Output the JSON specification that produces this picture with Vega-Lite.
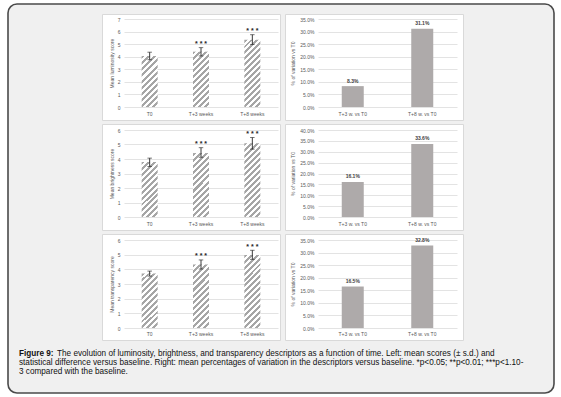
{
"$schema": "https://vega.github.io/schema/vega-lite/v6.json",
"background": "#ffffff",
"padding": {"left": 7, "top": 3, "right": 0, "bottom": 0},
"config": {
 "font": "Liberation Sans",
 "view": {"stroke": null},
 "axis": {"labelFont": "Liberation Sans", "titleFont": "Liberation Sans", "labelFontSize": 5, "titleFontSize": 5, "labelColor": "#595959", "titleColor": "#595959", "titleFontWeight": "normal", "domain": false, "ticks": false, "gridColor": "#d9d9d9", "gridWidth": 0.75},
 "axisX": {"grid": false, "offset": -13, "labelPadding": 4, "labelAngle": 0},
 "axisY": {"grid": true, "labelPadding": 2, "titlePadding": 3}
},
"bounds": "flush",
"spacing": 0,
"vconcat": [
 {"width": 546, "height": 10, "data": {"values": [{}]},
  "mark": {"type": "rect", "fill": "#f0f0f0", "stroke": "#4a4a4a", "strokeWidth": 1.6, "cornerRadius": 9},
  "encoding": {
   "x": {"datum": 0, "type": "quantitative", "scale": {"domain": [0, 1], "range": [0, 546]}, "axis": null},
   "x2": {"datum": 1},
   "y": {"datum": 0, "type": "quantitative", "scale": {"domain": [0, 1], "range": [0, 389]}, "axis": null},
   "y2": {"datum": 1}}},
 {"spacing": 2, "vconcat": [
  {"bounds": "flush", "spacing": 5, "hconcat": [
   {"width": 89, "height": 1, "data": {"values": []}, "mark": {"type": "point"}, "encoding": {}},
   {"width": 178, "height": 106, "view": {"fill": "#ffffff", "stroke": "#d9d9d9"},
    "data": {"values": [
     {"cat": "T0", "mean": 4.06, "lo": 3.76, "hi": 4.36, "sig": ""},
     {"cat": "T+3 weeks", "mean": 4.40, "lo": 4.06, "hi": 4.72, "sig": "* * *"},
     {"cat": "T+8 weeks", "mean": 5.35, "lo": 4.97, "hi": 5.75, "sig": "* * *"}]},
    "encoding": {
     "x": {"field": "cat", "type": "nominal", "title": null, "scale": {"domain": ["T0", "T+3 weeks", "T+8 weeks"], "range": [22, 176], "paddingInner": 0, "paddingOuter": 0}},
     "y": {"field": "mean", "type": "quantitative", "title": "Mean luminosity score", "scale": {"domain": [0, 7], "range": [93, 5], "nice": false}, "axis": {"offset": -20, "values": [0, 1, 2, 3, 4, 5, 6, 7]}}},
    "layer": [
     {"transform": [{"filter": "datum.cat === 'T0'"}], "mark": {"type": "bar", "size": 16, "fill": {"gradient": "linear", "x1": 0, "y1": 0, "x2": 0.375, "y2": 1.196, "stops": [
{"offset":0,"color":"#a6a6a6"},{"offset":0.0455,"color":"#a6a6a6"},{"offset":0.0455,"color":"#fff"},{"offset":0.0909,"color":"#fff"},
{"offset":0.0909,"color":"#a6a6a6"},{"offset":0.1364,"color":"#a6a6a6"},{"offset":0.1364,"color":"#fff"},{"offset":0.1818,"color":"#fff"},
{"offset":0.1818,"color":"#a6a6a6"},{"offset":0.2273,"color":"#a6a6a6"},{"offset":0.2273,"color":"#fff"},{"offset":0.2727,"color":"#fff"},
{"offset":0.2727,"color":"#a6a6a6"},{"offset":0.3182,"color":"#a6a6a6"},{"offset":0.3182,"color":"#fff"},{"offset":0.3636,"color":"#fff"},
{"offset":0.3636,"color":"#a6a6a6"},{"offset":0.4091,"color":"#a6a6a6"},{"offset":0.4091,"color":"#fff"},{"offset":0.4545,"color":"#fff"},
{"offset":0.4545,"color":"#a6a6a6"},{"offset":0.5,"color":"#a6a6a6"},{"offset":0.5,"color":"#fff"},{"offset":0.5455,"color":"#fff"},
{"offset":0.5455,"color":"#a6a6a6"},{"offset":0.5909,"color":"#a6a6a6"},{"offset":0.5909,"color":"#fff"},{"offset":0.6364,"color":"#fff"},
{"offset":0.6364,"color":"#a6a6a6"},{"offset":0.6818,"color":"#a6a6a6"},{"offset":0.6818,"color":"#fff"},{"offset":0.7273,"color":"#fff"},
{"offset":0.7273,"color":"#a6a6a6"},{"offset":0.7727,"color":"#a6a6a6"},{"offset":0.7727,"color":"#fff"},{"offset":0.8182,"color":"#fff"},
{"offset":0.8182,"color":"#a6a6a6"},{"offset":0.8636,"color":"#a6a6a6"},{"offset":0.8636,"color":"#fff"},{"offset":0.9091,"color":"#fff"},
{"offset":0.9091,"color":"#a6a6a6"},{"offset":0.9545,"color":"#a6a6a6"},{"offset":0.9545,"color":"#fff"},{"offset":1,"color":"#fff"}]}}},
     {"transform": [{"filter": "datum.cat === 'T+3 weeks'"}], "mark": {"type": "bar", "size": 16, "fill": {"gradient": "linear", "x1": 0, "y1": 0, "x2": 0.345, "y2": 1.19, "stops": [
{"offset":0,"color":"#a6a6a6"},{"offset":0.0417,"color":"#a6a6a6"},{"offset":0.0417,"color":"#fff"},{"offset":0.0833,"color":"#fff"},
{"offset":0.0833,"color":"#a6a6a6"},{"offset":0.125,"color":"#a6a6a6"},{"offset":0.125,"color":"#fff"},{"offset":0.1667,"color":"#fff"},
{"offset":0.1667,"color":"#a6a6a6"},{"offset":0.2083,"color":"#a6a6a6"},{"offset":0.2083,"color":"#fff"},{"offset":0.25,"color":"#fff"},
{"offset":0.25,"color":"#a6a6a6"},{"offset":0.2917,"color":"#a6a6a6"},{"offset":0.2917,"color":"#fff"},{"offset":0.3333,"color":"#fff"},
{"offset":0.3333,"color":"#a6a6a6"},{"offset":0.375,"color":"#a6a6a6"},{"offset":0.375,"color":"#fff"},{"offset":0.4167,"color":"#fff"},
{"offset":0.4167,"color":"#a6a6a6"},{"offset":0.4583,"color":"#a6a6a6"},{"offset":0.4583,"color":"#fff"},{"offset":0.5,"color":"#fff"},
{"offset":0.5,"color":"#a6a6a6"},{"offset":0.5417,"color":"#a6a6a6"},{"offset":0.5417,"color":"#fff"},{"offset":0.5833,"color":"#fff"},
{"offset":0.5833,"color":"#a6a6a6"},{"offset":0.625,"color":"#a6a6a6"},{"offset":0.625,"color":"#fff"},{"offset":0.6667,"color":"#fff"},
{"offset":0.6667,"color":"#a6a6a6"},{"offset":0.7083,"color":"#a6a6a6"},{"offset":0.7083,"color":"#fff"},{"offset":0.75,"color":"#fff"},
{"offset":0.75,"color":"#a6a6a6"},{"offset":0.7917,"color":"#a6a6a6"},{"offset":0.7917,"color":"#fff"},{"offset":0.8333,"color":"#fff"},
{"offset":0.8333,"color":"#a6a6a6"},{"offset":0.875,"color":"#a6a6a6"},{"offset":0.875,"color":"#fff"},{"offset":0.9167,"color":"#fff"},
{"offset":0.9167,"color":"#a6a6a6"},{"offset":0.9583,"color":"#a6a6a6"},{"offset":0.9583,"color":"#fff"},{"offset":1,"color":"#fff"}]}}},
     {"transform": [{"filter": "datum.cat === 'T+8 weeks'"}], "mark": {"type": "bar", "size": 16, "fill": {"gradient": "linear", "x1": 0, "y1": 0, "x2": 0.279, "y2": 1.172, "stops": [
{"offset":0,"color":"#a6a6a6"},{"offset":0.0357,"color":"#a6a6a6"},{"offset":0.0357,"color":"#fff"},{"offset":0.0714,"color":"#fff"},
{"offset":0.0714,"color":"#a6a6a6"},{"offset":0.1071,"color":"#a6a6a6"},{"offset":0.1071,"color":"#fff"},{"offset":0.1429,"color":"#fff"},
{"offset":0.1429,"color":"#a6a6a6"},{"offset":0.1786,"color":"#a6a6a6"},{"offset":0.1786,"color":"#fff"},{"offset":0.2143,"color":"#fff"},
{"offset":0.2143,"color":"#a6a6a6"},{"offset":0.25,"color":"#a6a6a6"},{"offset":0.25,"color":"#fff"},{"offset":0.2857,"color":"#fff"},
{"offset":0.2857,"color":"#a6a6a6"},{"offset":0.3214,"color":"#a6a6a6"},{"offset":0.3214,"color":"#fff"},{"offset":0.3571,"color":"#fff"},
{"offset":0.3571,"color":"#a6a6a6"},{"offset":0.3929,"color":"#a6a6a6"},{"offset":0.3929,"color":"#fff"},{"offset":0.4286,"color":"#fff"},
{"offset":0.4286,"color":"#a6a6a6"},{"offset":0.4643,"color":"#a6a6a6"},{"offset":0.4643,"color":"#fff"},{"offset":0.5,"color":"#fff"},
{"offset":0.5,"color":"#a6a6a6"},{"offset":0.5357,"color":"#a6a6a6"},{"offset":0.5357,"color":"#fff"},{"offset":0.5714,"color":"#fff"},
{"offset":0.5714,"color":"#a6a6a6"},{"offset":0.6071,"color":"#a6a6a6"},{"offset":0.6071,"color":"#fff"},{"offset":0.6429,"color":"#fff"},
{"offset":0.6429,"color":"#a6a6a6"},{"offset":0.6786,"color":"#a6a6a6"},{"offset":0.6786,"color":"#fff"},{"offset":0.7143,"color":"#fff"},
{"offset":0.7143,"color":"#a6a6a6"},{"offset":0.75,"color":"#a6a6a6"},{"offset":0.75,"color":"#fff"},{"offset":0.7857,"color":"#fff"},
{"offset":0.7857,"color":"#a6a6a6"},{"offset":0.8214,"color":"#a6a6a6"},{"offset":0.8214,"color":"#fff"},{"offset":0.8571,"color":"#fff"},
{"offset":0.8571,"color":"#a6a6a6"},{"offset":0.8929,"color":"#a6a6a6"},{"offset":0.8929,"color":"#fff"},{"offset":0.9286,"color":"#fff"},
{"offset":0.9286,"color":"#a6a6a6"},{"offset":0.9643,"color":"#a6a6a6"},{"offset":0.9643,"color":"#fff"},{"offset":1,"color":"#fff"}]}}},
     {"mark": {"type": "rule", "color": "#262626", "strokeWidth": 0.9}, "encoding": {"y": {"field": "lo", "type": "quantitative", "title": "Mean luminosity score", "axis": {"offset": -20, "values": [0, 1, 2, 3, 4, 5, 6, 7]}}, "y2": {"field": "hi"}}},
     {"mark": {"type": "tick", "color": "#262626", "thickness": 0.9, "size": 4.5}, "encoding": {"y": {"field": "lo", "type": "quantitative", "title": "Mean luminosity score", "axis": {"offset": -20, "values": [0, 1, 2, 3, 4, 5, 6, 7]}}}},
     {"mark": {"type": "tick", "color": "#262626", "thickness": 0.9, "size": 4.5}, "encoding": {"y": {"field": "hi", "type": "quantitative", "title": "Mean luminosity score", "axis": {"offset": -20, "values": [0, 1, 2, 3, 4, 5, 6, 7]}}}},
     {"mark": {"type": "text", "fontSize": 7, "fontWeight": "bold", "color": "#262626", "baseline": "middle", "dy": -3.5}, "encoding": {"y": {"field": "hi", "type": "quantitative", "title": "Mean luminosity score", "axis": {"offset": -20, "values": [0, 1, 2, 3, 4, 5, 6, 7]}}, "text": {"field": "sig"}}}
    ]},
   {"width": 178, "height": 106, "view": {"fill": "#ffffff", "stroke": "#d9d9d9"},
    "data": {"values": [{"cat": "T+3 w. vs T0", "pct": 0.083}, {"cat": "T+8 w. vs T0", "pct": 0.311}]},
    "encoding": {
     "x": {"field": "cat", "type": "nominal", "title": null, "scale": {"domain": ["T+3 w. vs T0", "T+8 w. vs T0"], "range": [33, 172], "paddingInner": 0, "paddingOuter": 0}},
     "y": {"field": "pct", "type": "quantitative", "title": "% of variation vs T0", "scale": {"domain": [0, 0.35], "range": [93, 5], "nice": false}, "axis": {"offset": -31, "format": ".1%", "values": [0, 0.05, 0.1, 0.15, 0.2, 0.25, 0.3, 0.35], "titlePadding": 4}}},
    "layer": [
     {"mark": {"type": "bar", "size": 22, "color": "#aeaaaa"}},
     {"mark": {"type": "text", "fontSize": 5, "fontWeight": "bold", "color": "#404040", "baseline": "middle", "dy": -5.5}, "encoding": {"text": {"field": "pct", "type": "quantitative", "format": ".1%"}}}
    ]}
  ]},
  {"bounds": "flush", "spacing": 5, "hconcat": [
   {"width": 89, "height": 1, "data": {"values": []}, "mark": {"type": "point"}, "encoding": {}},
   {"width": 178, "height": 106, "view": {"fill": "#ffffff", "stroke": "#d9d9d9"},
    "data": {"values": [
     {"cat": "T0", "mean": 3.80, "lo": 3.48, "hi": 4.06, "sig": ""},
     {"cat": "T+3 weeks", "mean": 4.41, "lo": 4.12, "hi": 4.78, "sig": "* * *"},
     {"cat": "T+8 weeks", "mean": 5.08, "lo": 4.68, "hi": 5.48, "sig": "* * *"}]},
    "encoding": {
     "x": {"field": "cat", "type": "nominal", "title": null, "scale": {"domain": ["T0", "T+3 weeks", "T+8 weeks"], "range": [22, 176], "paddingInner": 0, "paddingOuter": 0}},
     "y": {"field": "mean", "type": "quantitative", "title": "Mean brightness score", "scale": {"domain": [0, 6], "range": [93, 6], "nice": false}, "axis": {"offset": -20, "values": [0, 1, 2, 3, 4, 5, 6]}}},
    "layer": [
     {"transform": [{"filter": "datum.cat === 'T0'"}], "mark": {"type": "bar", "size": 16, "fill": {"gradient": "linear", "x1": 0, "y1": 0, "x2": 0.345, "y2": 1.19, "stops": [
{"offset":0,"color":"#a6a6a6"},{"offset":0.0417,"color":"#a6a6a6"},{"offset":0.0417,"color":"#fff"},{"offset":0.0833,"color":"#fff"},
{"offset":0.0833,"color":"#a6a6a6"},{"offset":0.125,"color":"#a6a6a6"},{"offset":0.125,"color":"#fff"},{"offset":0.1667,"color":"#fff"},
{"offset":0.1667,"color":"#a6a6a6"},{"offset":0.2083,"color":"#a6a6a6"},{"offset":0.2083,"color":"#fff"},{"offset":0.25,"color":"#fff"},
{"offset":0.25,"color":"#a6a6a6"},{"offset":0.2917,"color":"#a6a6a6"},{"offset":0.2917,"color":"#fff"},{"offset":0.3333,"color":"#fff"},
{"offset":0.3333,"color":"#a6a6a6"},{"offset":0.375,"color":"#a6a6a6"},{"offset":0.375,"color":"#fff"},{"offset":0.4167,"color":"#fff"},
{"offset":0.4167,"color":"#a6a6a6"},{"offset":0.4583,"color":"#a6a6a6"},{"offset":0.4583,"color":"#fff"},{"offset":0.5,"color":"#fff"},
{"offset":0.5,"color":"#a6a6a6"},{"offset":0.5417,"color":"#a6a6a6"},{"offset":0.5417,"color":"#fff"},{"offset":0.5833,"color":"#fff"},
{"offset":0.5833,"color":"#a6a6a6"},{"offset":0.625,"color":"#a6a6a6"},{"offset":0.625,"color":"#fff"},{"offset":0.6667,"color":"#fff"},
{"offset":0.6667,"color":"#a6a6a6"},{"offset":0.7083,"color":"#a6a6a6"},{"offset":0.7083,"color":"#fff"},{"offset":0.75,"color":"#fff"},
{"offset":0.75,"color":"#a6a6a6"},{"offset":0.7917,"color":"#a6a6a6"},{"offset":0.7917,"color":"#fff"},{"offset":0.8333,"color":"#fff"},
{"offset":0.8333,"color":"#a6a6a6"},{"offset":0.875,"color":"#a6a6a6"},{"offset":0.875,"color":"#fff"},{"offset":0.9167,"color":"#fff"},
{"offset":0.9167,"color":"#a6a6a6"},{"offset":0.9583,"color":"#a6a6a6"},{"offset":0.9583,"color":"#fff"},{"offset":1,"color":"#fff"}]}}},
     {"transform": [{"filter": "datum.cat === 'T+3 weeks'"}], "mark": {"type": "bar", "size": 16, "fill": {"gradient": "linear", "x1": 0, "y1": 0, "x2": 0.297, "y2": 1.177, "stops": [
{"offset":0,"color":"#a6a6a6"},{"offset":0.0385,"color":"#a6a6a6"},{"offset":0.0385,"color":"#fff"},{"offset":0.0769,"color":"#fff"},
{"offset":0.0769,"color":"#a6a6a6"},{"offset":0.1154,"color":"#a6a6a6"},{"offset":0.1154,"color":"#fff"},{"offset":0.1538,"color":"#fff"},
{"offset":0.1538,"color":"#a6a6a6"},{"offset":0.1923,"color":"#a6a6a6"},{"offset":0.1923,"color":"#fff"},{"offset":0.2308,"color":"#fff"},
{"offset":0.2308,"color":"#a6a6a6"},{"offset":0.2692,"color":"#a6a6a6"},{"offset":0.2692,"color":"#fff"},{"offset":0.3077,"color":"#fff"},
{"offset":0.3077,"color":"#a6a6a6"},{"offset":0.3462,"color":"#a6a6a6"},{"offset":0.3462,"color":"#fff"},{"offset":0.3846,"color":"#fff"},
{"offset":0.3846,"color":"#a6a6a6"},{"offset":0.4231,"color":"#a6a6a6"},{"offset":0.4231,"color":"#fff"},{"offset":0.4615,"color":"#fff"},
{"offset":0.4615,"color":"#a6a6a6"},{"offset":0.5,"color":"#a6a6a6"},{"offset":0.5,"color":"#fff"},{"offset":0.5385,"color":"#fff"},
{"offset":0.5385,"color":"#a6a6a6"},{"offset":0.5769,"color":"#a6a6a6"},{"offset":0.5769,"color":"#fff"},{"offset":0.6154,"color":"#fff"},
{"offset":0.6154,"color":"#a6a6a6"},{"offset":0.6538,"color":"#a6a6a6"},{"offset":0.6538,"color":"#fff"},{"offset":0.6923,"color":"#fff"},
{"offset":0.6923,"color":"#a6a6a6"},{"offset":0.7308,"color":"#a6a6a6"},{"offset":0.7308,"color":"#fff"},{"offset":0.7692,"color":"#fff"},
{"offset":0.7692,"color":"#a6a6a6"},{"offset":0.8077,"color":"#a6a6a6"},{"offset":0.8077,"color":"#fff"},{"offset":0.8462,"color":"#fff"},
{"offset":0.8462,"color":"#a6a6a6"},{"offset":0.8846,"color":"#a6a6a6"},{"offset":0.8846,"color":"#fff"},{"offset":0.9231,"color":"#fff"},
{"offset":0.9231,"color":"#a6a6a6"},{"offset":0.9615,"color":"#a6a6a6"},{"offset":0.9615,"color":"#fff"},{"offset":1,"color":"#fff"}]}}},
     {"transform": [{"filter": "datum.cat === 'T+8 weeks'"}], "mark": {"type": "bar", "size": 16, "fill": {"gradient": "linear", "x1": 0, "y1": 0, "x2": 0.256, "y2": 1.164, "stops": [
{"offset":0,"color":"#a6a6a6"},{"offset":0.0333,"color":"#a6a6a6"},{"offset":0.0333,"color":"#fff"},{"offset":0.0667,"color":"#fff"},
{"offset":0.0667,"color":"#a6a6a6"},{"offset":0.1,"color":"#a6a6a6"},{"offset":0.1,"color":"#fff"},{"offset":0.1333,"color":"#fff"},
{"offset":0.1333,"color":"#a6a6a6"},{"offset":0.1667,"color":"#a6a6a6"},{"offset":0.1667,"color":"#fff"},{"offset":0.2,"color":"#fff"},
{"offset":0.2,"color":"#a6a6a6"},{"offset":0.2333,"color":"#a6a6a6"},{"offset":0.2333,"color":"#fff"},{"offset":0.2667,"color":"#fff"},
{"offset":0.2667,"color":"#a6a6a6"},{"offset":0.3,"color":"#a6a6a6"},{"offset":0.3,"color":"#fff"},{"offset":0.3333,"color":"#fff"},
{"offset":0.3333,"color":"#a6a6a6"},{"offset":0.3667,"color":"#a6a6a6"},{"offset":0.3667,"color":"#fff"},{"offset":0.4,"color":"#fff"},
{"offset":0.4,"color":"#a6a6a6"},{"offset":0.4333,"color":"#a6a6a6"},{"offset":0.4333,"color":"#fff"},{"offset":0.4667,"color":"#fff"},
{"offset":0.4667,"color":"#a6a6a6"},{"offset":0.5,"color":"#a6a6a6"},{"offset":0.5,"color":"#fff"},{"offset":0.5333,"color":"#fff"},
{"offset":0.5333,"color":"#a6a6a6"},{"offset":0.5667,"color":"#a6a6a6"},{"offset":0.5667,"color":"#fff"},{"offset":0.6,"color":"#fff"},
{"offset":0.6,"color":"#a6a6a6"},{"offset":0.6333,"color":"#a6a6a6"},{"offset":0.6333,"color":"#fff"},{"offset":0.6667,"color":"#fff"},
{"offset":0.6667,"color":"#a6a6a6"},{"offset":0.7,"color":"#a6a6a6"},{"offset":0.7,"color":"#fff"},{"offset":0.7333,"color":"#fff"},
{"offset":0.7333,"color":"#a6a6a6"},{"offset":0.7667,"color":"#a6a6a6"},{"offset":0.7667,"color":"#fff"},{"offset":0.8,"color":"#fff"},
{"offset":0.8,"color":"#a6a6a6"},{"offset":0.8333,"color":"#a6a6a6"},{"offset":0.8333,"color":"#fff"},{"offset":0.8667,"color":"#fff"},
{"offset":0.8667,"color":"#a6a6a6"},{"offset":0.9,"color":"#a6a6a6"},{"offset":0.9,"color":"#fff"},{"offset":0.9333,"color":"#fff"},
{"offset":0.9333,"color":"#a6a6a6"},{"offset":0.9667,"color":"#a6a6a6"},{"offset":0.9667,"color":"#fff"},{"offset":1,"color":"#fff"}]}}},
     {"mark": {"type": "rule", "color": "#262626", "strokeWidth": 0.9}, "encoding": {"y": {"field": "lo", "type": "quantitative", "title": "Mean brightness score", "axis": {"offset": -20, "values": [0, 1, 2, 3, 4, 5, 6]}}, "y2": {"field": "hi"}}},
     {"mark": {"type": "tick", "color": "#262626", "thickness": 0.9, "size": 4.5}, "encoding": {"y": {"field": "lo", "type": "quantitative", "title": "Mean brightness score", "axis": {"offset": -20, "values": [0, 1, 2, 3, 4, 5, 6]}}}},
     {"mark": {"type": "tick", "color": "#262626", "thickness": 0.9, "size": 4.5}, "encoding": {"y": {"field": "hi", "type": "quantitative", "title": "Mean brightness score", "axis": {"offset": -20, "values": [0, 1, 2, 3, 4, 5, 6]}}}},
     {"mark": {"type": "text", "fontSize": 7, "fontWeight": "bold", "color": "#262626", "baseline": "middle", "dy": -3.5}, "encoding": {"y": {"field": "hi", "type": "quantitative", "title": "Mean brightness score", "axis": {"offset": -20, "values": [0, 1, 2, 3, 4, 5, 6]}}, "text": {"field": "sig"}}}
    ]},
   {"width": 178, "height": 106, "view": {"fill": "#ffffff", "stroke": "#d9d9d9"},
    "data": {"values": [{"cat": "T+3 w. vs T0", "pct": 0.161}, {"cat": "T+8 w. vs T0", "pct": 0.336}]},
    "encoding": {
     "x": {"field": "cat", "type": "nominal", "title": null, "scale": {"domain": ["T+3 w. vs T0", "T+8 w. vs T0"], "range": [33, 172], "paddingInner": 0, "paddingOuter": 0}},
     "y": {"field": "pct", "type": "quantitative", "title": "% of variation vs T0", "scale": {"domain": [0, 0.4], "range": [93, 6], "nice": false}, "axis": {"offset": -31, "format": ".1%", "values": [0, 0.05, 0.1, 0.15, 0.2, 0.25, 0.3, 0.35, 0.4], "titlePadding": 4}}},
    "layer": [
     {"mark": {"type": "bar", "size": 22, "color": "#aeaaaa"}},
     {"mark": {"type": "text", "fontSize": 5, "fontWeight": "bold", "color": "#404040", "baseline": "middle", "dy": -5.5}, "encoding": {"text": {"field": "pct", "type": "quantitative", "format": ".1%"}}}
    ]}
  ]},
  {"bounds": "flush", "spacing": 5, "hconcat": [
   {"width": 89, "height": 1, "data": {"values": []}, "mark": {"type": "point"}, "encoding": {}},
   {"width": 178, "height": 106, "view": {"fill": "#ffffff", "stroke": "#d9d9d9"},
    "data": {"values": [
     {"cat": "T0", "mean": 3.72, "lo": 3.54, "hi": 3.88, "sig": ""},
     {"cat": "T+3 weeks", "mean": 4.33, "lo": 4.02, "hi": 4.64, "sig": "* * *"},
     {"cat": "T+8 weeks", "mean": 4.98, "lo": 4.68, "hi": 5.30, "sig": "* * *"}]},
    "encoding": {
     "x": {"field": "cat", "type": "nominal", "title": null, "scale": {"domain": ["T0", "T+3 weeks", "T+8 weeks"], "range": [22, 176], "paddingInner": 0, "paddingOuter": 0}},
     "y": {"field": "mean", "type": "quantitative", "title": "Mean transparency score", "scale": {"domain": [0, 6], "range": [94, 6], "nice": false}, "axis": {"offset": -20, "values": [0, 1, 2, 3, 4, 5, 6]}}},
    "layer": [
     {"transform": [{"filter": "datum.cat === 'T0'"}], "mark": {"type": "bar", "size": 16, "fill": {"gradient": "linear", "x1": 0, "y1": 0, "x2": 0.345, "y2": 1.19, "stops": [
{"offset":0,"color":"#a6a6a6"},{"offset":0.0417,"color":"#a6a6a6"},{"offset":0.0417,"color":"#fff"},{"offset":0.0833,"color":"#fff"},
{"offset":0.0833,"color":"#a6a6a6"},{"offset":0.125,"color":"#a6a6a6"},{"offset":0.125,"color":"#fff"},{"offset":0.1667,"color":"#fff"},
{"offset":0.1667,"color":"#a6a6a6"},{"offset":0.2083,"color":"#a6a6a6"},{"offset":0.2083,"color":"#fff"},{"offset":0.25,"color":"#fff"},
{"offset":0.25,"color":"#a6a6a6"},{"offset":0.2917,"color":"#a6a6a6"},{"offset":0.2917,"color":"#fff"},{"offset":0.3333,"color":"#fff"},
{"offset":0.3333,"color":"#a6a6a6"},{"offset":0.375,"color":"#a6a6a6"},{"offset":0.375,"color":"#fff"},{"offset":0.4167,"color":"#fff"},
{"offset":0.4167,"color":"#a6a6a6"},{"offset":0.4583,"color":"#a6a6a6"},{"offset":0.4583,"color":"#fff"},{"offset":0.5,"color":"#fff"},
{"offset":0.5,"color":"#a6a6a6"},{"offset":0.5417,"color":"#a6a6a6"},{"offset":0.5417,"color":"#fff"},{"offset":0.5833,"color":"#fff"},
{"offset":0.5833,"color":"#a6a6a6"},{"offset":0.625,"color":"#a6a6a6"},{"offset":0.625,"color":"#fff"},{"offset":0.6667,"color":"#fff"},
{"offset":0.6667,"color":"#a6a6a6"},{"offset":0.7083,"color":"#a6a6a6"},{"offset":0.7083,"color":"#fff"},{"offset":0.75,"color":"#fff"},
{"offset":0.75,"color":"#a6a6a6"},{"offset":0.7917,"color":"#a6a6a6"},{"offset":0.7917,"color":"#fff"},{"offset":0.8333,"color":"#fff"},
{"offset":0.8333,"color":"#a6a6a6"},{"offset":0.875,"color":"#a6a6a6"},{"offset":0.875,"color":"#fff"},{"offset":0.9167,"color":"#fff"},
{"offset":0.9167,"color":"#a6a6a6"},{"offset":0.9583,"color":"#a6a6a6"},{"offset":0.9583,"color":"#fff"},{"offset":1,"color":"#fff"}]}}},
     {"transform": [{"filter": "datum.cat === 'T+3 weeks'"}], "mark": {"type": "bar", "size": 16, "fill": {"gradient": "linear", "x1": 0, "y1": 0, "x2": 0.297, "y2": 1.177, "stops": [
{"offset":0,"color":"#a6a6a6"},{"offset":0.0385,"color":"#a6a6a6"},{"offset":0.0385,"color":"#fff"},{"offset":0.0769,"color":"#fff"},
{"offset":0.0769,"color":"#a6a6a6"},{"offset":0.1154,"color":"#a6a6a6"},{"offset":0.1154,"color":"#fff"},{"offset":0.1538,"color":"#fff"},
{"offset":0.1538,"color":"#a6a6a6"},{"offset":0.1923,"color":"#a6a6a6"},{"offset":0.1923,"color":"#fff"},{"offset":0.2308,"color":"#fff"},
{"offset":0.2308,"color":"#a6a6a6"},{"offset":0.2692,"color":"#a6a6a6"},{"offset":0.2692,"color":"#fff"},{"offset":0.3077,"color":"#fff"},
{"offset":0.3077,"color":"#a6a6a6"},{"offset":0.3462,"color":"#a6a6a6"},{"offset":0.3462,"color":"#fff"},{"offset":0.3846,"color":"#fff"},
{"offset":0.3846,"color":"#a6a6a6"},{"offset":0.4231,"color":"#a6a6a6"},{"offset":0.4231,"color":"#fff"},{"offset":0.4615,"color":"#fff"},
{"offset":0.4615,"color":"#a6a6a6"},{"offset":0.5,"color":"#a6a6a6"},{"offset":0.5,"color":"#fff"},{"offset":0.5385,"color":"#fff"},
{"offset":0.5385,"color":"#a6a6a6"},{"offset":0.5769,"color":"#a6a6a6"},{"offset":0.5769,"color":"#fff"},{"offset":0.6154,"color":"#fff"},
{"offset":0.6154,"color":"#a6a6a6"},{"offset":0.6538,"color":"#a6a6a6"},{"offset":0.6538,"color":"#fff"},{"offset":0.6923,"color":"#fff"},
{"offset":0.6923,"color":"#a6a6a6"},{"offset":0.7308,"color":"#a6a6a6"},{"offset":0.7308,"color":"#fff"},{"offset":0.7692,"color":"#fff"},
{"offset":0.7692,"color":"#a6a6a6"},{"offset":0.8077,"color":"#a6a6a6"},{"offset":0.8077,"color":"#fff"},{"offset":0.8462,"color":"#fff"},
{"offset":0.8462,"color":"#a6a6a6"},{"offset":0.8846,"color":"#a6a6a6"},{"offset":0.8846,"color":"#fff"},{"offset":0.9231,"color":"#fff"},
{"offset":0.9231,"color":"#a6a6a6"},{"offset":0.9615,"color":"#a6a6a6"},{"offset":0.9615,"color":"#fff"},{"offset":1,"color":"#fff"}]}}},
     {"transform": [{"filter": "datum.cat === 'T+8 weeks'"}], "mark": {"type": "bar", "size": 16, "fill": {"gradient": "linear", "x1": 0, "y1": 0, "x2": 0.256, "y2": 1.164, "stops": [
{"offset":0,"color":"#a6a6a6"},{"offset":0.0333,"color":"#a6a6a6"},{"offset":0.0333,"color":"#fff"},{"offset":0.0667,"color":"#fff"},
{"offset":0.0667,"color":"#a6a6a6"},{"offset":0.1,"color":"#a6a6a6"},{"offset":0.1,"color":"#fff"},{"offset":0.1333,"color":"#fff"},
{"offset":0.1333,"color":"#a6a6a6"},{"offset":0.1667,"color":"#a6a6a6"},{"offset":0.1667,"color":"#fff"},{"offset":0.2,"color":"#fff"},
{"offset":0.2,"color":"#a6a6a6"},{"offset":0.2333,"color":"#a6a6a6"},{"offset":0.2333,"color":"#fff"},{"offset":0.2667,"color":"#fff"},
{"offset":0.2667,"color":"#a6a6a6"},{"offset":0.3,"color":"#a6a6a6"},{"offset":0.3,"color":"#fff"},{"offset":0.3333,"color":"#fff"},
{"offset":0.3333,"color":"#a6a6a6"},{"offset":0.3667,"color":"#a6a6a6"},{"offset":0.3667,"color":"#fff"},{"offset":0.4,"color":"#fff"},
{"offset":0.4,"color":"#a6a6a6"},{"offset":0.4333,"color":"#a6a6a6"},{"offset":0.4333,"color":"#fff"},{"offset":0.4667,"color":"#fff"},
{"offset":0.4667,"color":"#a6a6a6"},{"offset":0.5,"color":"#a6a6a6"},{"offset":0.5,"color":"#fff"},{"offset":0.5333,"color":"#fff"},
{"offset":0.5333,"color":"#a6a6a6"},{"offset":0.5667,"color":"#a6a6a6"},{"offset":0.5667,"color":"#fff"},{"offset":0.6,"color":"#fff"},
{"offset":0.6,"color":"#a6a6a6"},{"offset":0.6333,"color":"#a6a6a6"},{"offset":0.6333,"color":"#fff"},{"offset":0.6667,"color":"#fff"},
{"offset":0.6667,"color":"#a6a6a6"},{"offset":0.7,"color":"#a6a6a6"},{"offset":0.7,"color":"#fff"},{"offset":0.7333,"color":"#fff"},
{"offset":0.7333,"color":"#a6a6a6"},{"offset":0.7667,"color":"#a6a6a6"},{"offset":0.7667,"color":"#fff"},{"offset":0.8,"color":"#fff"},
{"offset":0.8,"color":"#a6a6a6"},{"offset":0.8333,"color":"#a6a6a6"},{"offset":0.8333,"color":"#fff"},{"offset":0.8667,"color":"#fff"},
{"offset":0.8667,"color":"#a6a6a6"},{"offset":0.9,"color":"#a6a6a6"},{"offset":0.9,"color":"#fff"},{"offset":0.9333,"color":"#fff"},
{"offset":0.9333,"color":"#a6a6a6"},{"offset":0.9667,"color":"#a6a6a6"},{"offset":0.9667,"color":"#fff"},{"offset":1,"color":"#fff"}]}}},
     {"mark": {"type": "rule", "color": "#262626", "strokeWidth": 0.9}, "encoding": {"y": {"field": "lo", "type": "quantitative", "title": "Mean transparency score", "axis": {"offset": -20, "values": [0, 1, 2, 3, 4, 5, 6]}}, "y2": {"field": "hi"}}},
     {"mark": {"type": "tick", "color": "#262626", "thickness": 0.9, "size": 4.5}, "encoding": {"y": {"field": "lo", "type": "quantitative", "title": "Mean transparency score", "axis": {"offset": -20, "values": [0, 1, 2, 3, 4, 5, 6]}}}},
     {"mark": {"type": "tick", "color": "#262626", "thickness": 0.9, "size": 4.5}, "encoding": {"y": {"field": "hi", "type": "quantitative", "title": "Mean transparency score", "axis": {"offset": -20, "values": [0, 1, 2, 3, 4, 5, 6]}}}},
     {"mark": {"type": "text", "fontSize": 7, "fontWeight": "bold", "color": "#262626", "baseline": "middle", "dy": -3.5}, "encoding": {"y": {"field": "hi", "type": "quantitative", "title": "Mean transparency score", "axis": {"offset": -20, "values": [0, 1, 2, 3, 4, 5, 6]}}, "text": {"field": "sig"}}}
    ]},
   {"width": 178, "height": 106, "view": {"fill": "#ffffff", "stroke": "#d9d9d9"},
    "data": {"values": [{"cat": "T+3 w. vs T0", "pct": 0.165}, {"cat": "T+8 w. vs T0", "pct": 0.328}]},
    "encoding": {
     "x": {"field": "cat", "type": "nominal", "title": null, "scale": {"domain": ["T+3 w. vs T0", "T+8 w. vs T0"], "range": [33, 172], "paddingInner": 0, "paddingOuter": 0}},
     "y": {"field": "pct", "type": "quantitative", "title": "% of variation vs T0", "scale": {"domain": [0, 0.35], "range": [94, 6], "nice": false}, "axis": {"offset": -31, "format": ".1%", "values": [0, 0.05, 0.1, 0.15, 0.2, 0.25, 0.3, 0.35], "titlePadding": 4}}},
    "layer": [
     {"mark": {"type": "bar", "size": 22, "color": "#aeaaaa"}},
     {"mark": {"type": "text", "fontSize": 5, "fontWeight": "bold", "color": "#404040", "baseline": "middle", "dy": -5.5}, "encoding": {"text": {"field": "pct", "type": "quantitative", "format": ".1%"}}}
    ]}
  ]},
  {"bounds": "flush", "spacing": 0, "hconcat": [
   {"width": 11, "height": 1, "data": {"values": []}, "mark": {"type": "point"}, "encoding": {}},
   {"width": 530, "height": 34,
    "encoding": {"y": {"field": "line", "type": "ordinal", "axis": null, "scale": {"domain": [1, 2, 3], "range": [6, 33], "paddingInner": 0, "paddingOuter": 0}}, "x": {"value": 0}},
    "layer": [
     {"data": {"values": [{"line": 1, "t": "Figure 9:"}]}, "mark": {"type": "text", "align": "left", "baseline": "middle", "fontSize": 8.2, "fontWeight": "bold", "color": "#111111"}, "encoding": {"text": {"field": "t"}}},
     {"data": {"values": [{"line": 1, "t": "The evolution of luminosity, brightness, and transparency descriptors as a function of time. Left: mean scores (± s.d.) and"}]}, "mark": {"type": "text", "align": "left", "baseline": "middle", "fontSize": 8.2, "color": "#111111", "dx": 38}, "encoding": {"text": {"field": "t"}}},
     {"data": {"values": [{"line": 2, "t": "statistical difference versus baseline. Right: mean percentages of variation in the descriptors versus baseline. *p<0.05; **p<0.01; ***p<1.10-"}, {"line": 3, "t": "3 compared with the baseline."}]}, "mark": {"type": "text", "align": "left", "baseline": "middle", "fontSize": 8.2, "color": "#111111"}, "encoding": {"text": {"field": "t"}}}
    ]}
  ]}
 ]}
]
}
